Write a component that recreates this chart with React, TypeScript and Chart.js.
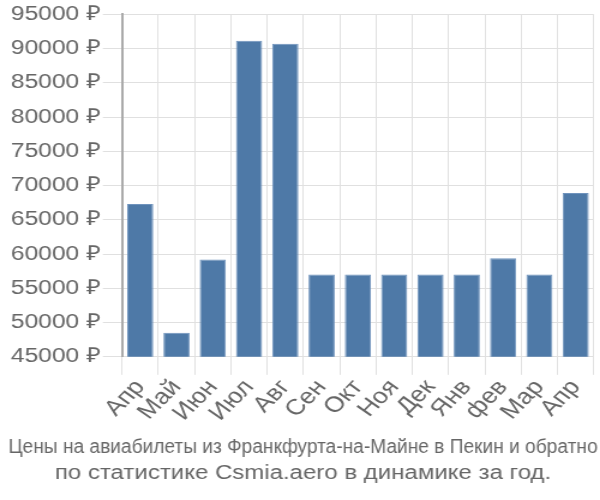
import React, { useEffect, useRef } from "react";
import { Chart, registerables } from "chart.js";

Chart.register(...registerables);

const categories = ["Апр", "Май", "Июн", "Июл", "Авг", "Сен", "Окт", "Ноя", "Дек", "Янв", "фев", "Мар", "Апр"];
const prices = [67300, 48500, 59200, 91150, 90700, 57000, 57000, 57000, 57000, 57000, 59400, 57000, 68900];
const yMin = 45000;
const yMax = 95000;
const yStep = 5000;
const titleLines = [
  "Цены на авиабилеты из Франкфурта-на-Майне в Пекин и обратно",
  "по статистике Csmia.aero в динамике за год.",
];

const FONT = "'Liberation Sans', Arial, sans-serif";

export default function App() {
  const ref = useRef<HTMLCanvasElement>(null);
  useEffect(() => {
    document.body.style.margin = "0";
    const chart = new Chart(ref.current!, {
      type: "bar",
      data: {
        labels: categories,
        datasets: [
          {
            data: prices,
            backgroundColor: "#4e79a7",
            borderColor: "#6f93bd",
            borderWidth: 1,
          },
        ],
      },
      options: {
        animation: false,
        responsive: false,
        devicePixelRatio: 1,
        layout: { padding: { left: 7, right: 2, top: 6, bottom: 14 } },
        plugins: {
          legend: { display: false },
          tooltip: { enabled: false },
          title: {
            display: true,
            position: "bottom",
            text: titleLines,
            color: "#666",
            font: { family: FONT, size: 20, weight: "normal", lineHeight: 1.3 },
            padding: { top: 8, bottom: 0 },
          },
        },
        scales: {
          x: {
            grid: { color: "#e0e0e0", tickLength: 18, drawTicks: true },
            border: { color: "#e0e0e0", width: 1 },
            ticks: {
              color: "#666",
              font: { family: FONT, size: 22 },
              maxRotation: 50,
              minRotation: 50,
              autoSkip: false,
              padding: 0,
            },
          },
          y: {
            min: yMin,
            max: yMax,
            grid: { color: "#e0e0e0", tickLength: 16 },
            border: { color: "#aaa", width: 2 },
            ticks: {
              stepSize: yStep,
              color: "#666",
              font: { family: FONT, size: 20.5 },
              callback: (v: any) => `${v} ₽`,
              padding: 2,
            },
          },
        },
      },
    });
    return () => chart.destroy();
  }, []);
  return (
    <canvas
      ref={ref}
      width={500}
      height={500}
      style={{ display: "block", width: "600px", height: "500px" }}
    />
  );
}
